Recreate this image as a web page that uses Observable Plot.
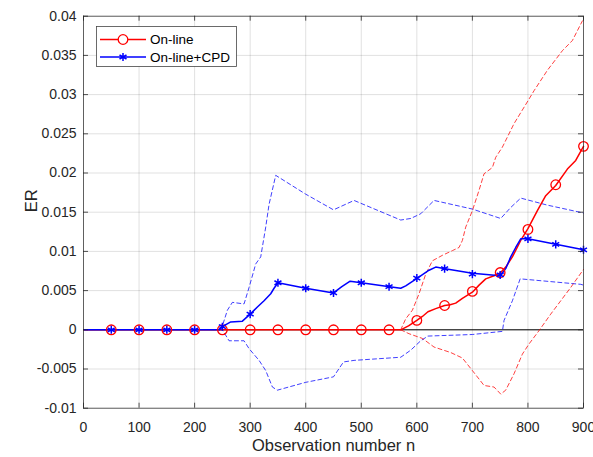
<!DOCTYPE html>
<html>
<head>
<meta charset="utf-8">
<script src="https://cdn.jsdelivr.net/npm/d3@7"></script>
<script src="https://cdn.jsdelivr.net/npm/@observablehq/plot@0.6"></script>
<style>
  html, body { margin: 0; padding: 0; background: #fff; }
  #chart { width: 593px; height: 457px; }
</style>
</head>
<body>
<div id="chart"></div>
<script>
// ---- data ----
const xTicks = [0, 100, 200, 300, 400, 500, 600, 700, 800, 900];
const yTicks = [-0.01, -0.005, 0, 0.005, 0.01, 0.015, 0.02, 0.025, 0.03, 0.035, 0.04];
const yTickLabels = ["-0.01", "-0.005", "0", "0.005", "0.01", "0.015", "0.02", "0.025", "0.03", "0.035", "0.04"];
const seriesNames = ["On-line", "On-line+CPD"];

const markerN = [50, 100, 150, 200, 250, 300, 350, 400, 450, 500, 550, 600, 650, 700, 750, 800, 850, 900];
const onlineMarkers = [0, 0, 0, 0, 0, 0, 0, 0, 0, 0, 0, 0.0012, 0.0031, 0.0049, 0.0073, 0.0128, 0.0185, 0.0234];
const cpdMarkers = [0, 0, 0, 0, 0.0004, 0.002, 0.006, 0.0053, 0.0047, 0.006, 0.0055, 0.0066, 0.0078, 0.0071, 0.007, 0.0116, 0.0109, 0.0102];

const onlineLine = [[1,0],[571,0],[585,0.0005],[600,0.0012],[610,0.0017],[620,0.0023],[634,0.0027],[650,0.0031],[660,0.0032],[670,0.0034],[682,0.004],[700,0.0048],[712,0.0057],[724,0.0065],[739,0.0069],[751,0.0073],[760,0.008],[772,0.0093],[787,0.0114],[800,0.0129],[817,0.0152],[832,0.0171],[850,0.0184],[871,0.0205],[886,0.0216],[900,0.0234]];
const onlineUpper = [[571,0],[580,0.0014],[592,0.0025],[604,0.0046],[616,0.0071],[628,0.0088],[646,0.0095],[664,0.0101],[676,0.0105],[682,0.0114],[688,0.0131],[700,0.0152],[712,0.0178],[721,0.0199],[736,0.0207],[742,0.022],[754,0.0233],[775,0.0263],[800,0.0292],[811,0.0305],[835,0.0331],[862,0.0356],[880,0.0369],[898,0.0394]];
const onlineLower = [[571,0],[586,-0.0005],[610,-0.0011],[631,-0.0022],[661,-0.0029],[682,-0.0036],[700,-0.0052],[721,-0.0071],[739,-0.0073],[751,-0.0082],[760,-0.0077],[775,-0.0056],[790,-0.0031],[802,-0.0018],[820,-0.0001],[841,0.002],[859,0.0037],[877,0.0054],[900,0.0077]];

const cpdLine = [[1,0],[245,0],[250,0.0004],[265,0.001],[286,0.0011],[300,0.002],[313,0.0029],[325,0.0037],[337,0.0046],[343,0.0053],[350,0.006],[400,0.0053],[450,0.0047],[465,0.0055],[480,0.0062],[500,0.006],[551,0.0055],[571,0.0053],[580,0.0056],[601,0.0066],[622,0.0076],[634,0.008],[651,0.0078],[700,0.0072],[750,0.0069],[760,0.0078],[769,0.0093],[778,0.0105],[787,0.0116],[800,0.0116],[850,0.0109],[900,0.0102]];
const cpdUpper = [[245,0],[250,0.0005],[259,0.0025],[268,0.0035],[289,0.0033],[298,0.0054],[310,0.0084],[319,0.0093],[328,0.0131],[334,0.016],[346,0.0197],[400,0.0173],[450,0.0153],[487,0.0165],[571,0.014],[589,0.0142],[607,0.0148],[631,0.0165],[700,0.0154],[751,0.0142],[769,0.0156],[787,0.0168],[835,0.0159],[900,0.0149]];
const cpdLower = [[245,0],[250,0],[262,-0.0014],[289,-0.0014],[298,-0.0024],[316,-0.0039],[328,-0.0052],[340,-0.0073],[349,-0.0077],[400,-0.0067],[450,-0.006],[468,-0.0041],[487,-0.0039],[571,-0.0035],[589,-0.0026],[607,-0.0014],[620,-0.0008],[700,-0.0006],[754,-0.0002],[757,0.0012],[772,0.0037],[786,0.0065],[895,0.0058],[900,0.0057]];

// ---- layout ----
const W = 593, H = 457;
const mL = 83, mR = 10, mT = 15.7, mB = 49.3;
const RED = "#ff0000", BLUE = "#0000ff", AX = "#262626";
const FONT = "'Liberation Sans', Arial, Helvetica, sans-serif";
const xDom = [0, 900], yDom = [-0.01, 0.04];
const tkX = (xDom[1] - xDom[0]) * 5 / (W - mL - mR);
const tkY = (yDom[1] - yDom[0]) * 5 / (H - mT - mB);

const onlineM = markerN.map((n, i) => ({n, v: onlineMarkers[i]}));
const cpdM = markerN.map((n, i) => ({n, v: cpdMarkers[i]}));
const dash = {strokeWidth: 1, strokeDasharray: "4,3", strokeOpacity: 0.75};

const chart = Plot.plot({
  width: W, height: H,
  marginLeft: mL, marginRight: mR, marginTop: mT, marginBottom: mB,
  style: {fontFamily: FONT, fontSize: "14px", color: AX, background: "#fff"},
  x: {domain: xDom},
  y: {domain: yDom},
  marks: [
    Plot.gridX(xTicks, {stroke: "#000", strokeOpacity: 0.12}),
    Plot.gridY(yTicks, {stroke: "#000", strokeOpacity: 0.12}),
    Plot.ruleY([0], {stroke: "#000", strokeWidth: 1}),
    Plot.line(cpdUpper, {x: "0", y: "1", stroke: BLUE, ...dash}),
    Plot.line(cpdLower, {x: "0", y: "1", stroke: BLUE, ...dash}),
    Plot.line(onlineUpper, {x: "0", y: "1", stroke: RED, ...dash}),
    Plot.line(onlineLower, {x: "0", y: "1", stroke: RED, ...dash}),
    Plot.line(onlineLine, {x: "0", y: "1", stroke: RED, strokeWidth: 1.5}),
    Plot.line(cpdLine, {x: "0", y: "1", stroke: BLUE, strokeWidth: 1.5}),
    Plot.dot(onlineM, {x: "n", y: "v", r: 4.8, stroke: RED, fill: "none", strokeWidth: 1.3}),
    Plot.dot(cpdM, {x: "n", y: "v", r: 3.8, symbol: "asterisk", stroke: BLUE, strokeWidth: 1.5}),
    Plot.frame({stroke: AX, strokeWidth: 0.8, strokeOpacity: 0.85}),
    Plot.ruleX(xTicks, {x: d => d, y1: yDom[0], y2: yDom[0] + tkY, stroke: AX, strokeWidth: 0.8}),
    Plot.ruleX(xTicks, {x: d => d, y1: yDom[1] - tkY, y2: yDom[1], stroke: AX, strokeWidth: 0.8}),
    Plot.ruleY(yTicks, {y: d => d, x1: xDom[0], x2: xDom[0] + tkX, stroke: AX, strokeWidth: 0.8}),
    Plot.ruleY(yTicks, {y: d => d, x1: xDom[1] - tkX, x2: xDom[1], stroke: AX, strokeWidth: 0.8}),
    Plot.axisX(xTicks, {tickSize: 0, tickPadding: 14, fontSize: 14, label: null}),
    Plot.axisY(yTicks, {tickSize: 0, tickPadding: 7, fontSize: 14, label: null,
      tickFormat: d => yTickLabels[yTicks.indexOf(d)]}),
    Plot.text(["Observation number n"], {frameAnchor: "bottom", lineAnchor: "middle", dy: 37.5, fontSize: 16.5, fill: AX}),
    Plot.text(["ER"], {frameAnchor: "left", dx: -52, rotate: -90, fontSize: 16.5, fill: AX})
  ]
});
document.getElementById("chart").appendChild(chart);

// ---- legend (inside the axes, top-left) ----
const svg = d3.select(chart);
const lg = svg.append("g").attr("font-family", FONT).attr("font-size", 13.5).attr("text-anchor", "start");
lg.append("rect").attr("x", 96.5).attr("y", 26.5).attr("width", 140).attr("height", 40)
  .attr("fill", "#fff").attr("stroke", AX).attr("stroke-width", 0.8).attr("stroke-opacity", 0.85);
const rows = [
  {name: seriesNames[0], color: RED, y: 39.5, sym: "circle"},
  {name: seriesNames[1], color: BLUE, y: 57, sym: "asterisk"}
];
rows.forEach(r => {
  lg.append("line").attr("x1", 100).attr("x2", 146).attr("y1", r.y).attr("y2", r.y)
    .attr("stroke", r.color).attr("stroke-width", 1.5);
  if (r.sym === "circle") {
    lg.append("circle").attr("cx", 123).attr("cy", r.y).attr("r", 4.8)
      .attr("fill", "#fff").attr("stroke", r.color).attr("stroke-width", 1.3);
  } else {
    lg.append("path").attr("transform", `translate(123,${r.y})`)
      .attr("d", d3.symbol(d3.symbolAsterisk, Math.PI * 3.8 * 3.8)())
      .attr("fill", "none").attr("stroke", r.color).attr("stroke-width", 1.5);
  }
  lg.append("text").attr("x", 150).attr("y", r.y).attr("dy", "0.35em")
    .attr("text-anchor", "start").attr("fill", "#000").text(r.name);
});
</script>
</body>
</html>
